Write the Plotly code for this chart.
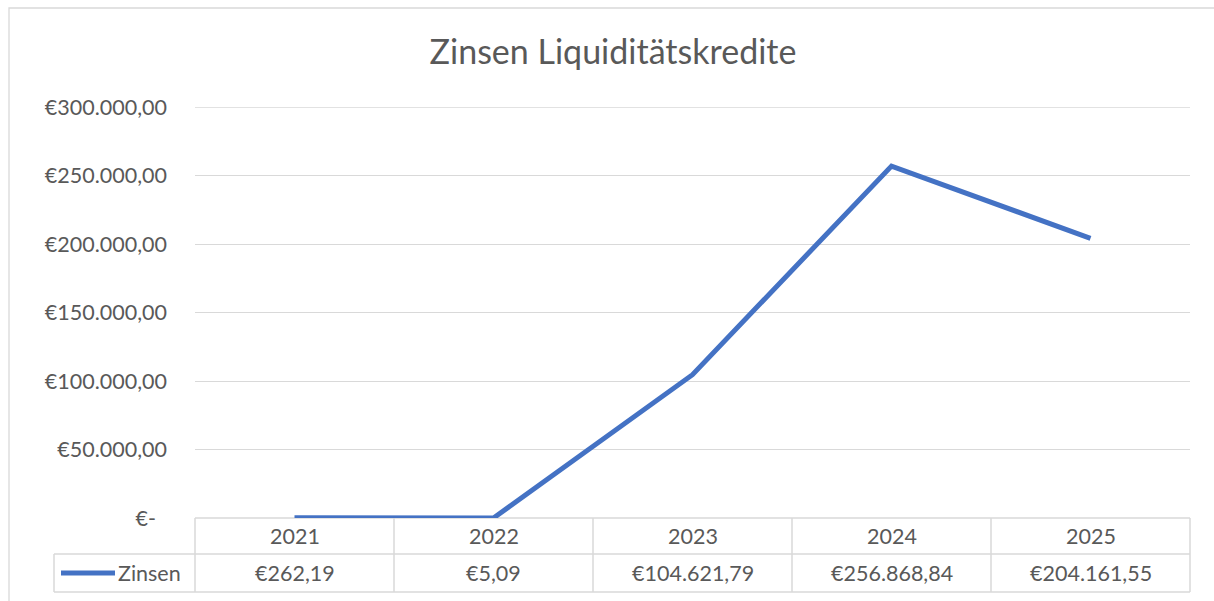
import plotly.graph_objects as go

# ---- data ----
years = ["2021", "2022", "2023", "2024", "2025"]
zinsen = [262.19, 5.09, 104621.79, 256868.84, 204161.55]
series_name = "Zinsen"
title_text = "Zinsen Liquiditätskredite"
y_ticks = [0, 50000, 100000, 150000, 200000, 250000, 300000]

W, H = 1214, 601
FONT = "Lato"
GREY = "#595959"
GRID = "#d9d9d9"
BLUE = "#4472C4"
FS = 21.5


def px(x):
    return x / W


def py(y):
    return 1 - y / H


def eur(v, dash_zero=False):
    if dash_zero and v == 0:
        return "€-\u00a0\u00a0"
    s = f"{v:,.2f}"
    s = s.replace(",", "X").replace(".", ",").replace("X", ".")
    return "€" + s


PL, PR, PT, PB = 195, 1190, 107, 518  # plot area pixels
ROW1_B, ROW2_B = 554, 592
LEG_L = 54

fig = go.Figure()
fig.add_trace(go.Scatter(
    x=years, y=zinsen, mode="lines", name=series_name,
    line=dict(color=BLUE, width=5),
    cliponaxis=False,
    hoverinfo="x+y",
))

shapes = []
# chart outer frame
shapes.append(dict(type="rect", xref="paper", yref="paper",
                   x0=px(9), x1=px(1300), y0=py(8), y1=py(700),
                   line=dict(color=GRID, width=1.3), layer="below"))
# top gridline (at the range edge)
shapes.append(dict(type="line", xref="paper", yref="y",
                   x0=px(PL), x1=px(PR), y0=y_ticks[-1], y1=y_ticks[-1],
                   line=dict(color=GRID, width=1.3), layer="below"))
# table horizontal lines
for y, x0 in [(PB, PL), (ROW1_B, LEG_L), (ROW2_B, LEG_L)]:
    shapes.append(dict(type="line", xref="paper", yref="paper",
                       x0=px(x0), x1=px(PR), y0=py(y), y1=py(y),
                       line=dict(color=GRID, width=1.5), layer="below"))
# table vertical lines
n = len(years)
for i in range(n + 1):
    xv = PL + (PR - PL) * i / n
    shapes.append(dict(type="line", xref="paper", yref="paper",
                       x0=px(xv), x1=px(xv), y0=py(PB), y1=py(ROW2_B),
                       line=dict(color=GRID, width=1.5), layer="below"))
shapes.append(dict(type="line", xref="paper", yref="paper",
                   x0=px(LEG_L), x1=px(LEG_L), y0=py(ROW1_B), y1=py(ROW2_B),
                   line=dict(color=GRID, width=1.5), layer="below"))
# legend key line
shapes.append(dict(type="line", xref="paper", yref="paper",
                   x0=px(61), x1=px(115), y0=py(573), y1=py(573),
                   line=dict(color=BLUE, width=5)))

annotations = []
for i, (yr, v) in enumerate(zip(years, zinsen)):
    annotations.append(dict(x=i, xref="x", y=py((PB + ROW1_B) / 2), yref="paper",
                            text=yr, showarrow=False, xanchor="center", yanchor="middle",
                            font=dict(family=FONT, size=FS, color=GREY)))
    annotations.append(dict(x=i, xref="x", y=py((ROW1_B + ROW2_B) / 2), yref="paper",
                            text=eur(v), showarrow=False, xanchor="center", yanchor="middle",
                            font=dict(family=FONT, size=FS, color=GREY)))
annotations.append(dict(x=px(116), xref="paper", y=py(573), yref="paper",
                        text=series_name, showarrow=False, xanchor="left", yanchor="middle",
                        font=dict(family=FONT, size=FS, color=GREY)))

fig.update_layout(
    width=W, height=H,
    margin=dict(l=0, r=0, t=0, b=0, pad=0),
    paper_bgcolor="white", plot_bgcolor="white",
    showlegend=False,
    title=dict(text=title_text, x=px(613), y=py(52), xref="paper", yref="paper",
               xanchor="center", yanchor="middle",
               font=dict(family=FONT, size=34, color=GREY)),
    xaxis=dict(domain=[px(PL), px(PR)], type="category", range=[-0.5, n - 0.5],
               showticklabels=False, showgrid=False, zeroline=False, showline=False,
               automargin=False, fixedrange=True),
    yaxis=dict(domain=[py(PB), py(PT)], range=[0, 300000],
               tickvals=y_ticks,
               ticktext=[eur(v, dash_zero=True) for v in y_ticks],
               showgrid=True, gridcolor=GRID, gridwidth=1.3,
               zeroline=False, showline=False, ticks="",
               ticklabelstandoff=27, automargin=False,
               tickfont=dict(family=FONT, size=FS, color=GREY)),
    shapes=shapes,
    annotations=annotations,
)

fig.write_html("out.html", config={"displayModeBar": False},
               post_script="document.body.style.margin='0';")
